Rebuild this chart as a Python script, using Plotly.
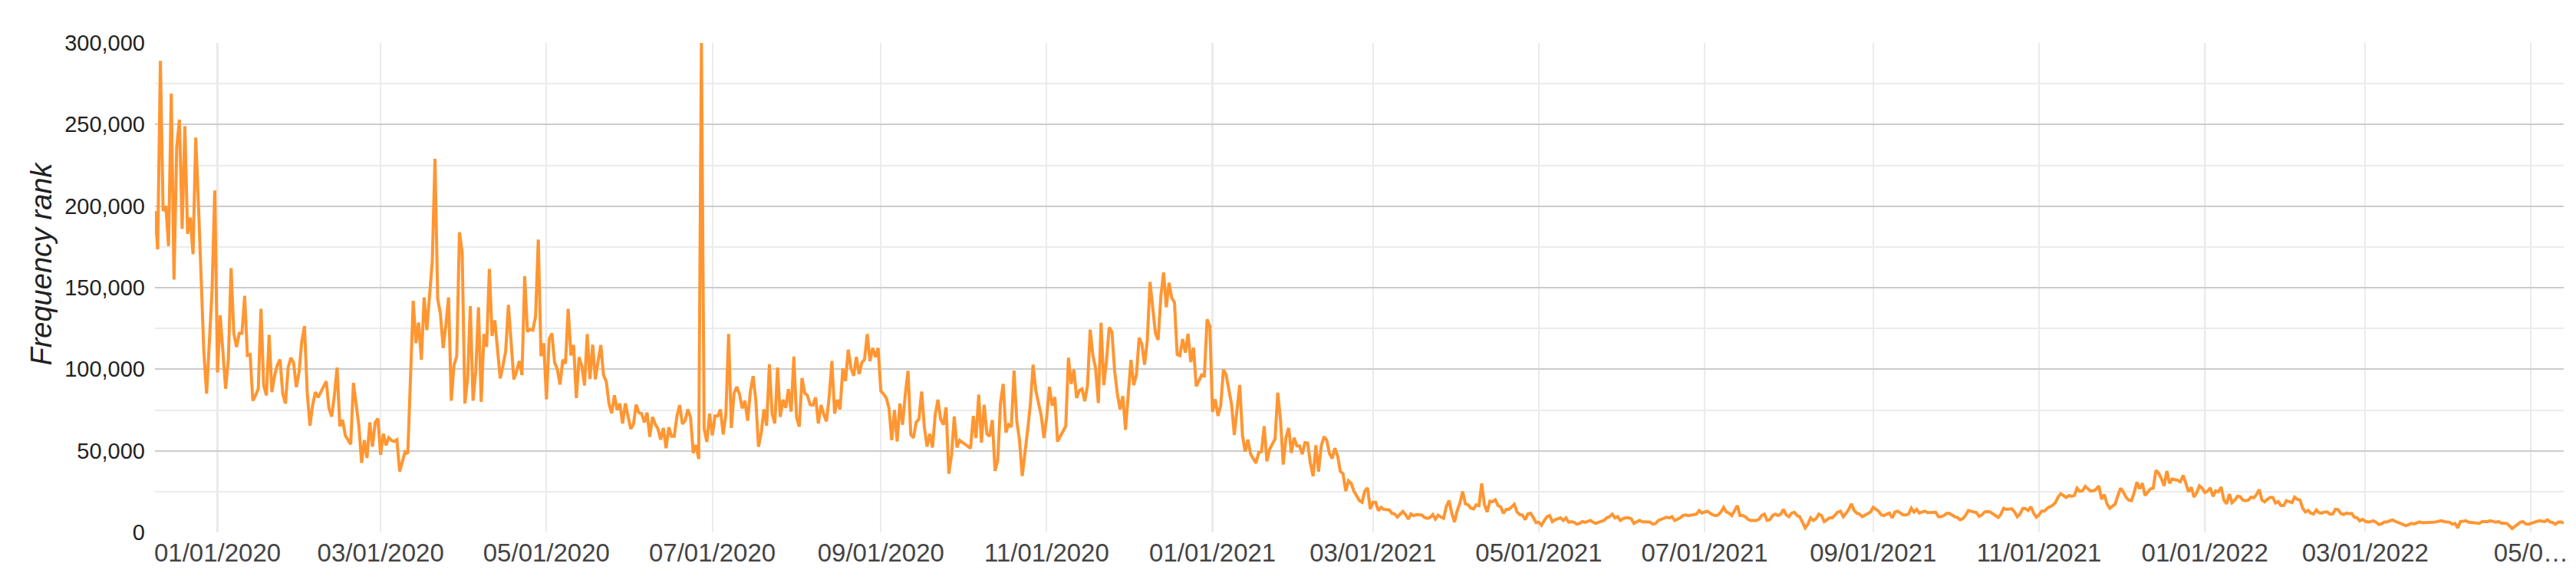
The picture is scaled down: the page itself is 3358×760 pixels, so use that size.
import pandas as pd
import plotly.graph_objects as go

# Daily frequency rank (in thousands), starting 2019-12-09
start_date = "2019-12-09"

rank_dec19_feb20 = [
    197, 173.5, 289, 197, 200, 175.5, 269, 155, 236, 253,
    186, 249, 183, 193, 170.5, 242, 201, 148, 110, 85,
    116, 148, 209.6, 98, 133, 110, 88, 106, 162, 122,
    113.6, 122, 122, 145, 108.5, 109, 80.7, 84, 88, 137,
    90, 84, 121, 86, 96, 102.5, 106, 85, 79, 101,
    107, 104, 89, 98, 117, 126.5, 86, 65.4, 78, 86,
    82.7, 86, 89, 92.6, 76, 71, 84, 101, 65, 69,
    59.5, 56.5, 54, 91.6, 79, 65.4, 42.6, 56.5, 45.6, 67.4,
    52.5, 67.4, 69.8, 47.6,
]

rank_mar20_may20 = [
    60.4, 53.3, 58, 56.4, 55.7, 56.8, 37.3, 43.9, 49.4, 48.3,
    92, 142, 116, 128.6, 105.8, 144, 124, 143.5, 166, 229,
    143, 134, 113, 127, 144, 80.7, 102.7, 108, 184, 171.7,
    79, 94, 138.7, 80.7, 98.8, 138, 80, 121.5, 113.7, 161.5,
    120.4, 130, 112, 94.4, 102, 111, 139.5, 119, 93.8, 98.8,
    105, 96.4, 157, 123, 124.6, 124, 132.5, 179.5, 108, 116,
    81.5, 118.4, 122, 104, 100, 90.6, 105.8, 103.5, 137, 108.5,
    114.8, 82.3, 107.4, 102, 90, 121.5, 94, 115, 93.8, 105,
    114.8, 96.4, 92.5, 79, 73,
]

rank_may20_aug20 = [
    84, 75, 79, 66.8, 79, 70.4, 63.5, 66.4, 78.3, 73.4,
    72.8, 67.4, 73.4, 58.5, 70.8, 66.4, 63.5, 56.9, 64, 51.6,
    64.4, 58.9, 58.9, 71.4, 78, 66.4, 68.4, 75.4, 70.4, 48.6,
    53.5, 45, 300, 63.5, 55.5, 72.8, 59.5, 71.4, 71.4, 75.4,
    60, 72.4, 121.6, 64, 85.3, 89.2, 84.7, 76, 80.7, 68.4,
    86.3, 95.8, 81.3, 52.5, 60.9, 75.4, 65.4, 103, 72.8, 66.8,
    101, 70.8, 81.3, 76.3, 87.8, 74, 107.7, 70.4, 64.8, 94.6,
    85.3, 83.9, 78.3, 78, 82.7, 66.8, 78, 72.4, 68, 83.3,
    105, 72.8, 81.3, 75.4, 100.5,
    92.7, 112, 100.7, 96, 107.5, 97, 104, 106, 121.6, 105,
    113, 107.5, 113,
]

rank_sep20_nov20 = [
    86.7, 84.8, 82.4, 76, 56.5, 75, 55.7, 79, 66, 84.8,
    99, 60, 58, 67.5, 69.4, 86.3, 64.4, 52.6, 60.4, 52,
    72.2, 81.3, 69.4, 66, 76.6, 36, 47.4, 71, 52, 56.5,
    55.3, 54.2, 53, 51.5, 71.4, 57.8, 84.5, 55, 78.2, 60.4,
    58.9, 68.8, 37.7, 44.3, 79.3, 91, 61.2, 66, 64.7, 99.2,
    68.3, 56.5, 34.5, 47, 62.8, 78.5, 102.8, 87, 79.3, 71.4,
    57.8, 70.6, 89.2, 77.7, 82.9, 55.7, 58.9, 62,
]

rank_nov20_feb21 = [
    65, 107, 91, 99.7, 82.4, 87, 88, 80.4, 89.8, 124.3,
    108.3, 100.5, 79.3, 128.4, 90.3, 105.2, 125.6, 122.8, 98.9, 84.8,
    75.4, 83.5, 62.8, 84.8, 105.7, 90.3, 96.5, 119.3, 115.4, 102.8,
    117.7, 153.5, 138, 122, 118, 145, 159.3, 138, 153, 143.6,
    141, 109, 108.3, 118.5, 110.2, 121.7, 104.4, 113.3, 89.5, 93,
    96.5, 96, 130.6, 126.4, 73.8, 81.6, 71.4, 77.7, 99.7, 96.5,
    88, 78.5, 59.7, 75.4, 90.3, 59.7, 49.5, 56.8, 47.9, 45.2,
    42.4, 49, 49.5, 65.1, 43.6, 51, 54.2, 57.3, 85.6, 69,
    41.6, 58, 64, 48.7, 58, 53, 53, 47.9,
]

rank_feb21_apr21 = [
    55, 54.7, 42.2, 34.4, 53.4, 37.2, 53.1, 58.6, 56.6, 48.4,
    45.3, 51.6, 46.9, 37.5, 35.9, 25.3, 31.6, 30, 25.3, 22.2,
    19.5, 18.4, 25.3, 27.3, 14.4, 18.4, 18.4, 13.3, 15.3, 14.1,
    14.1, 13.8, 11.7, 11.3, 9.4, 10.9, 12.8, 10.9, 8.1, 11.3,
    10.2, 10.9, 10.9, 10.6, 9.1, 8.6, 9.1, 10.9, 8.1, 10.6,
    9.4, 8.6, 15.9, 19.5, 11.7, 6.3, 13.3, 18, 25, 17.5,
    16.9, 14.8, 14.4, 16.9, 16.4, 30, 17.2, 12.5, 19.1, 18.8,
    20, 16.4, 15.6, 11.7, 14.1, 14.1, 15.6, 17.2, 12.5, 10.9,
    10.6, 7.8, 11.3, 11.7, 9, 6,
]

rank_may21_sep21 = [
    6.2, 4.3, 7.3, 9.6, 10.3, 6.6, 7.7, 8.4, 8.9, 7.3,
    8.9, 6.2, 6.6, 6.2, 5.0, 5.5, 6.6, 6.2, 6.6, 7.3,
    6.2, 5.5, 6.2, 6.6, 7.3, 8.9, 9.6, 11.2, 8.9, 9.6,
    7.3, 8.4, 8.9, 8.9, 8.4, 5.5, 6.2, 7.3, 6.6, 6.6,
    6.6, 6.2, 5.0, 5.5, 7.3, 8.0, 8.4, 9.3, 8.9, 9.6,
    7.3, 8.0, 8.9, 10.3, 10.7, 10.3, 10.7, 11.2, 11.2, 13.4,
    11.8, 12.5, 13.0, 11.8, 10.7, 10.3, 10.7, 12.5, 15.3, 12.5,
    11.8, 10.3, 13.4, 16.4, 10.3, 10.3, 9.6, 8.0, 7.3, 7.3,
    7.3, 8.0, 10.3, 11.2, 7.3, 7.7, 10.3, 11.2, 10.3, 11.2,
    14.1, 10.7, 9.6, 11.8, 12.3, 10.3, 9.6, 6.2, 2.7, 5.0,
    8.9, 7.3, 8.4, 11.2, 10.3, 6.6, 8.0, 8.9, 8.9, 10.7,
    12.5, 13.0, 9.6, 11.6, 14.1, 17.5, 13.4, 11.8, 11.2, 9.6,
    10.7, 11.6, 12.5, 15.3, 14.4, 13.0, 10.7, 10.3, 11.2, 11.8,
    8.9, 12.5, 13.0, 11.6, 10.7, 10.7, 11.2, 14.8, 12.5, 14.1,
    11.8, 12.5, 13.0,
]

rank_sep21_feb22 = [
    12.1, 12.3, 12.1, 12.3, 9.6, 9.6, 10.3, 11.6, 11.6, 10.5,
    9.6, 9.1, 7.7, 8.4, 10.5, 13.4, 13.0, 12.5, 12.1, 9.8,
    10.7, 12.5, 12.8, 12.5, 11.4, 10.0, 9.1, 11.2, 14.8, 14.1,
    14.1, 14.4, 12.5, 9.6, 11.2, 14.6, 14.6, 13.4, 15.7, 11.8,
    9.3, 10.7, 13.0, 13.0, 14.8, 15.7, 16.6, 18.2, 21.6, 23.7,
    22.6, 21.4, 22.6, 22.1, 22.6, 27.1, 25.1, 25.5, 28.2, 26.9,
    25.3, 25.5, 26.4, 28.5, 20.3, 23.2, 17.5, 14.8, 15.9, 17.3,
    22.6, 27.1, 24.8, 21.6, 19.8, 19.4, 24.4, 30.8, 26.7, 30.1,
    22.6, 24.4, 26.7, 27.1, 38.0, 36.2, 33.0, 28.5, 37.6, 30.1,
    32.8, 32.3, 31.9, 31.0, 34.9, 30.1, 24.8, 27.6, 21.6, 24.4,
    28.5, 27.1, 24.4, 25.3, 27.3, 22.1, 25.5, 24.8, 27.8, 19.8,
    17.5, 23.5, 18.2, 19.8, 22.1, 21.9, 19.8, 19.4, 19.8, 21.6,
    21.2, 23.2, 26.2, 19.8, 18.7, 20.3, 21.4, 21.4, 18.0, 18.9,
    16.4, 16.4, 19.4, 18.9, 18.2, 21.6, 20.3, 19.8, 14.8, 12.5,
    13.4, 11.8, 11.2, 13.7, 12.1, 11.8, 12.5, 12.5, 11.2, 11.2,
    14.1, 13.9, 11.6, 10.9, 11.8, 11.4, 11.6, 9.3, 8.9, 7.1,
    8.0, 6.8, 6.4, 6.6, 7.1, 6.2, 4.8, 5.2, 6.4,
]

rank_mar22_may22 = [
    6.4, 7.3, 7.7, 6.8, 6.2, 5.7, 5.0, 4.1, 4.8, 5.5,
    5.2, 5.9, 6.4, 5.9, 5.9, 5.9, 6.2, 6.2, 6.4, 6.8,
    7.1, 6.6, 6.2, 6.2, 5.0, 5.5, 2.7, 6.6, 6.8, 7.1,
    6.2, 6.2, 5.9, 5.7, 5.5, 6.6, 6.6, 6.6, 7.1, 6.6,
    6.2, 6.6, 5.7, 5.7, 5.5, 4.1, 2.3, 3.6, 5.2, 6.2,
    6.6, 5.2, 5.0, 5.7, 6.2, 6.6, 7.1, 6.8, 6.6, 7.7,
    6.4, 5.9, 5.0, 6.4, 6.4, 5.7,
]

tick_dates = ["2020-01-01", "2020-03-01", "2020-05-01", "2020-07-01", "2020-09-01",
              "2020-11-01", "2021-01-01", "2021-03-01", "2021-05-01", "2021-07-01",
              "2021-09-01", "2021-11-01", "2022-01-01", "2022-03-01", "2022-05-01"]
tick_labels = ["01/01/2020", "03/01/2020", "05/01/2020", "07/01/2020", "09/01/2020",
               "11/01/2020", "01/01/2021", "03/01/2021", "05/01/2021", "07/01/2021",
               "09/01/2021", "11/01/2021", "01/01/2022", "03/01/2022", "05/0\u2026"]
year_starts = ["2020-01-01", "2021-01-01", "2022-01-01"]

y_ticks = [0, 50000, 100000, 150000, 200000, 250000, 300000]

values_k = (rank_dec19_feb20 + rank_mar20_may20 + rank_may20_aug20 + rank_sep20_nov20
            + rank_nov20_feb21 + rank_feb21_apr21 + rank_may21_sep21 + rank_sep21_feb22
            + rank_mar22_may22)
values = [v * 1000 for v in values_k]
dates = pd.date_range(start_date, periods=len(values), freq="D")

FONT = "Arial, 'Liberation Sans', Arimo, sans-serif"

fig = go.Figure()
fig.add_trace(go.Scatter(
    x=dates, y=values, mode="lines",
    line=dict(color="#ff9632", width=4),
    hoverinfo="skip", showlegend=False,
))

for ys in year_starts:
    fig.add_shape(type="line", xref="x", yref="paper", x0=ys, x1=ys, y0=0, y1=1,
                  line=dict(color="#cccccc", width=2), layer="below")

fig.update_layout(
    width=3358, height=760,
    margin=dict(l=194, r=24, t=48, b=74),
    paper_bgcolor="white", plot_bgcolor="white",
    font=dict(family=FONT, color="#222222"),
    xaxis=dict(
        type="date",
        range=[dates[0], dates[-1]],
        tickmode="array", tickvals=tick_dates, ticktext=tick_labels,
        showgrid=True, gridcolor="#ebebeb", gridwidth=2,
        zeroline=False, showline=False, ticks="",
        tickfont=dict(size=33, color="#444444", family=FONT),
        ticklabelstandoff=4,
    ),
    yaxis=dict(
        range=[0, 300000],
        tickmode="array", tickvals=y_ticks,
        tickformat=",d",
        showgrid=True, gridcolor="#cccccc", gridwidth=2,
        minor=dict(dtick=25000, showgrid=True, gridcolor="#ebebeb", gridwidth=2),
        zeroline=False, showline=False, ticks="",
        tickfont=dict(size=29, color="#222222", family=FONT),
        ticklabelstandoff=12,
    ),
    annotations=[dict(
        text="<i>Frequency rank</i>", textangle=-90,
        xref="paper", yref="paper", x=-0.047, y=0.55,
        xanchor="center", yanchor="middle", showarrow=False,
        font=dict(size=38, color="#222222", family=FONT),
    )],
)

fig.write_html("out.html")
